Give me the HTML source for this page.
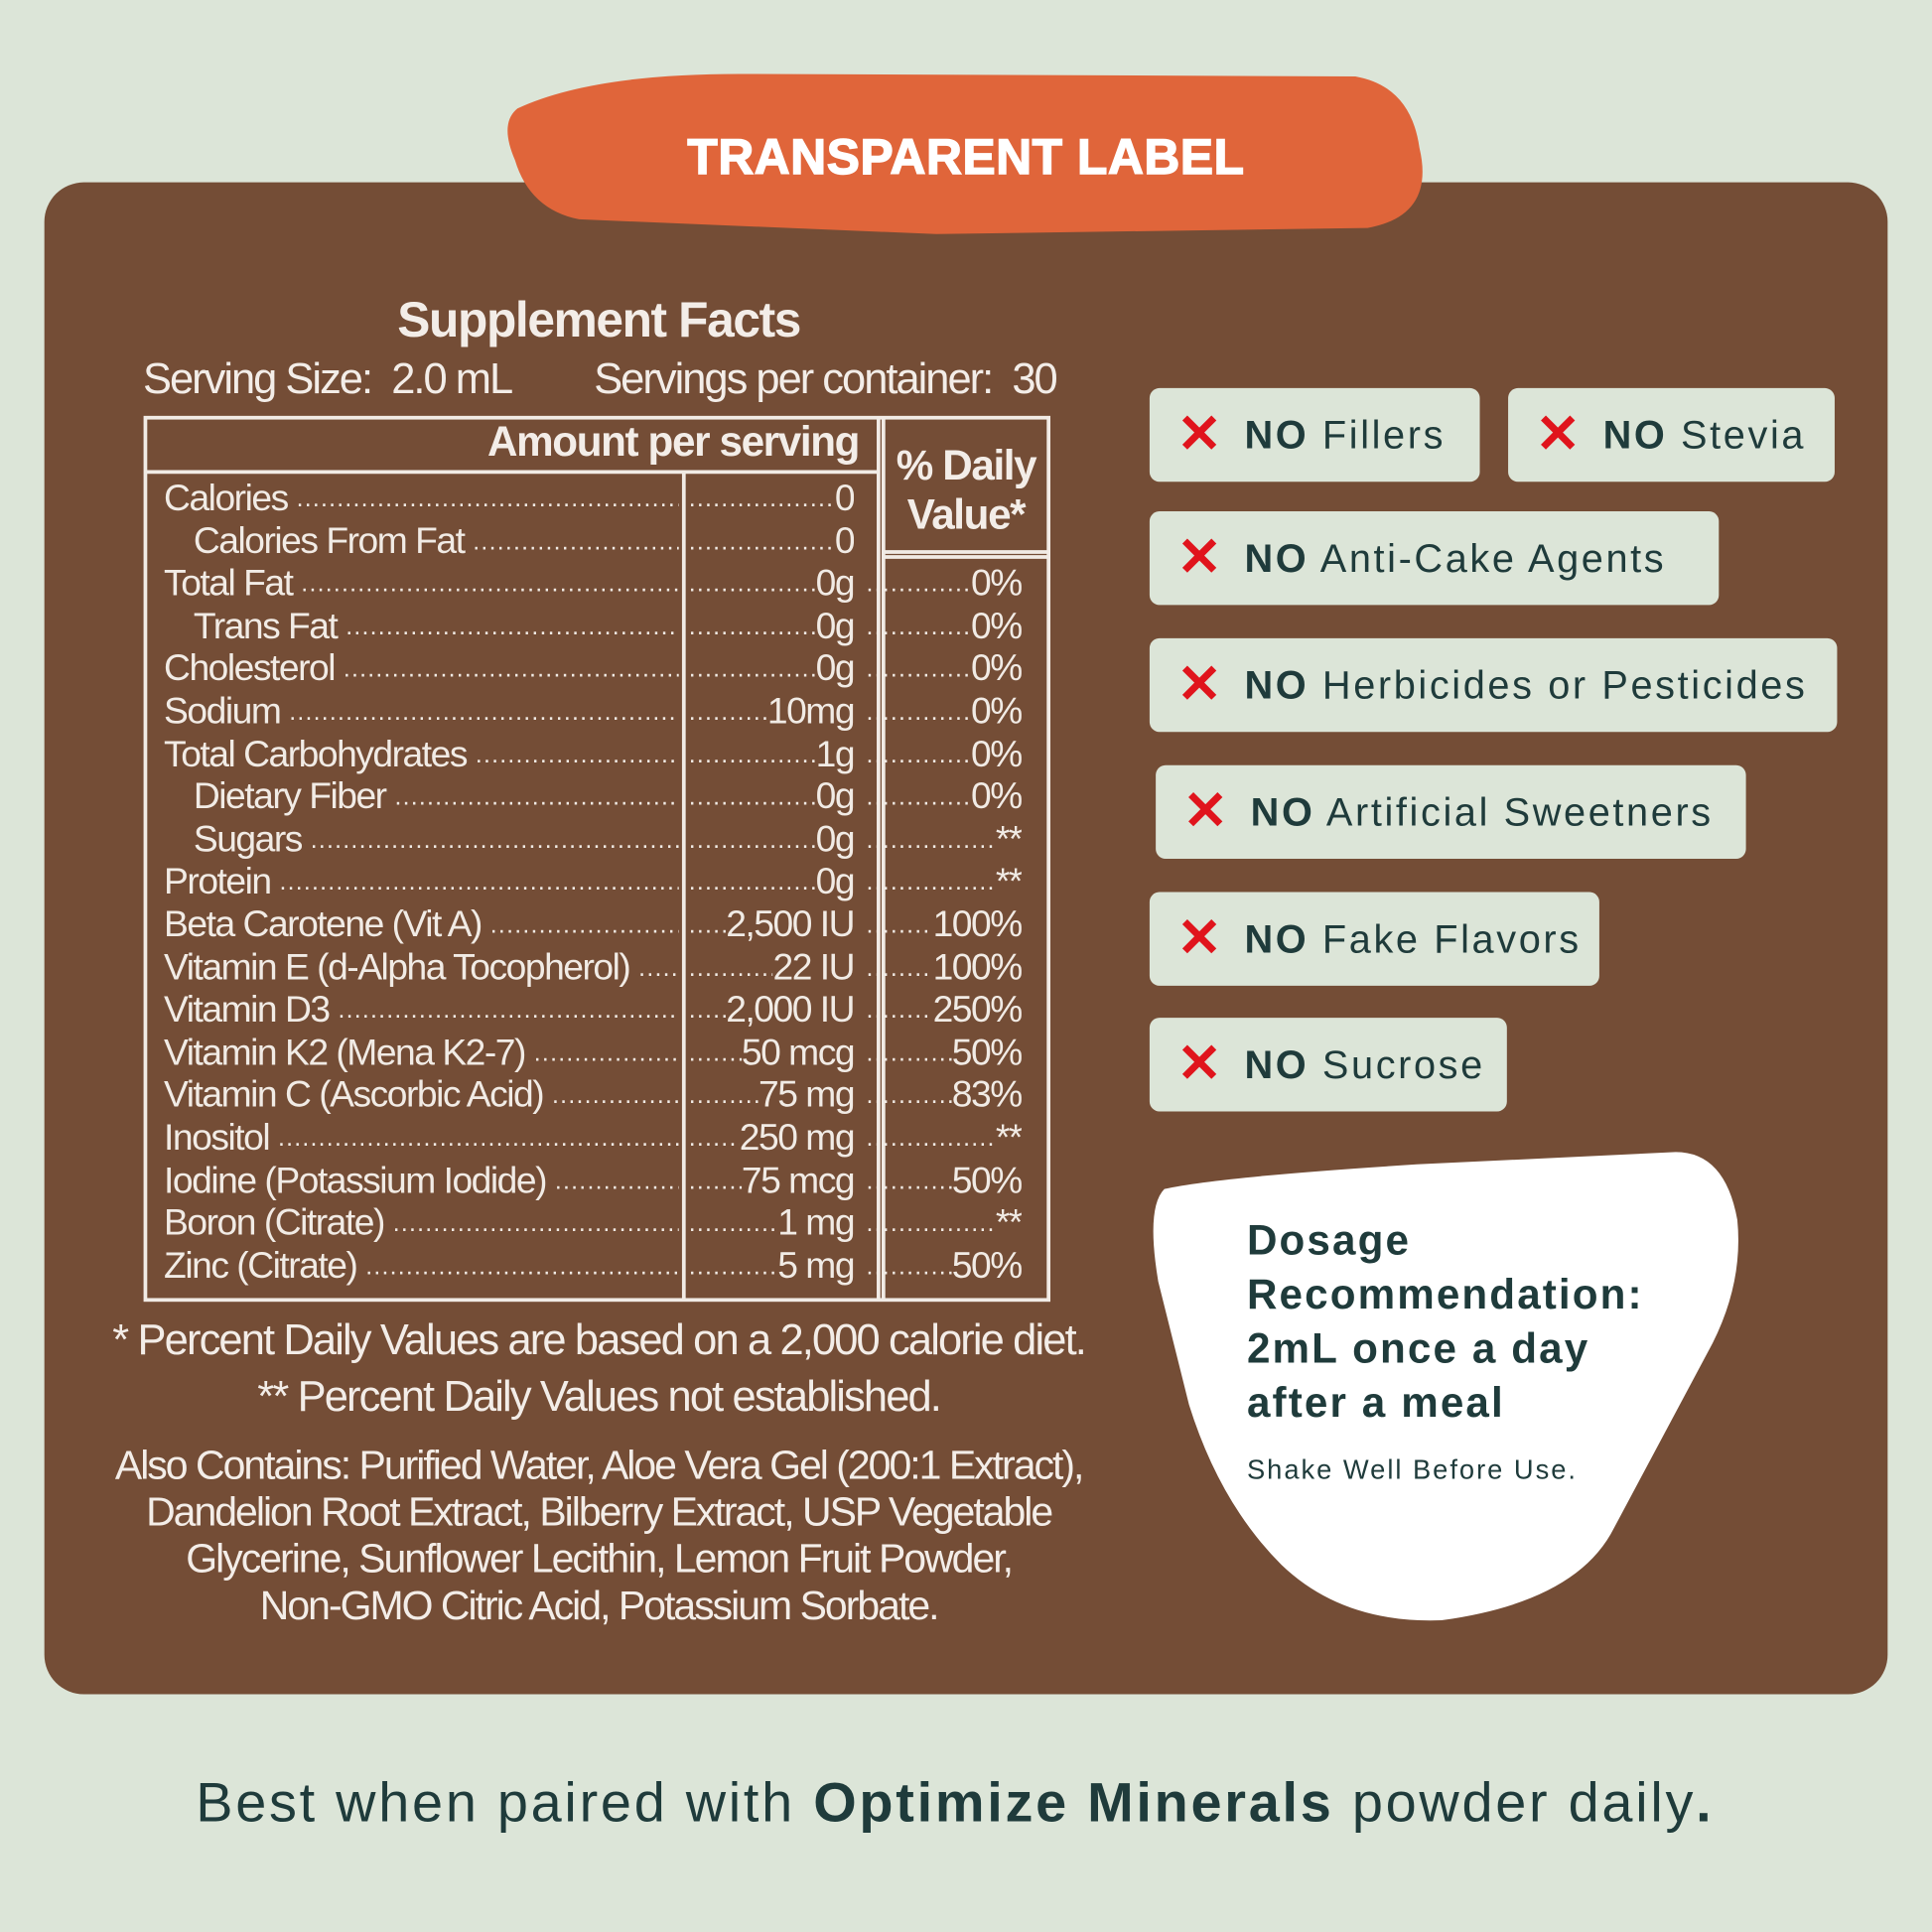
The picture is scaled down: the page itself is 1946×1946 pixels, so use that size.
<!DOCTYPE html>
<html><head><meta charset="utf-8">
<style>
html,body{margin:0;padding:0;}
body{width:1946px;height:1946px;overflow:hidden;background:#dce5d8;}
#w{position:absolute;left:0;top:0;width:1568px;height:1568px;transform:scale(1.24107);transform-origin:0 0;font-family:"Liberation Sans",sans-serif;}
.abs{position:absolute;}
.panel{left:36px;top:148px;width:1496px;height:1227px;background:#744d36;border-radius:32px;}
.sf{color:#f3ede8;letter-spacing:-1.1px;}
.row{position:absolute;height:34px;font-size:30px;line-height:34px;color:#f1ebe5;letter-spacing:-1.2px;}
.c{position:absolute;top:0;display:flex;white-space:nowrap;overflow:hidden;height:34px;}
.d{flex:1;overflow:hidden;white-space:nowrap;font-size:20px;letter-spacing:1px;}
.badge{position:absolute;background:#dce5d8;border-radius:8px;font-size:32px;color:#1f3b3b;letter-spacing:2.1px;line-height:76px;}
.badge b{font-weight:bold;}
.x{color:#e0141c;font-weight:bold;font-size:44px;position:absolute;top:0;}
.dos{color:#1f3b3b;font-weight:bold;font-size:34px;line-height:44px;letter-spacing:1.7px;}
</style></head><body><div id="w">
<div class="abs panel"></div>
<svg class="abs" style="left:0;top:0" width="1568" height="1568">
<path d="M420,88 Q480,60 600,60 L1100,62 Q1145,70 1152,120 Q1165,175 1110,185 L760,190 L470,178 Q430,170 418,130 Q405,100 420,88Z" fill="#e0653a"/>
<path d="M945,965 Q990,955 1150,945 L1360,935 Q1400,935 1410,990 Q1415,1040 1390,1090 L1310,1240 Q1280,1300 1170,1315 Q1090,1318 1040,1270 Q990,1220 965,1140 L940,1040 Q930,980 945,965Z" fill="#fff"/>
<g stroke="#f1ebe5" stroke-width="3" fill="none">
<rect x="118" y="339" width="733" height="716"/>
<line x1="118" y1="383" x2="713" y2="383"/>
<line x1="555" y1="383" x2="555" y2="1055"/>
<line x1="713" y1="339" x2="713" y2="1055"/>
<line x1="717" y1="339" x2="717" y2="1055"/>
<line x1="717" y1="448" x2="851" y2="448"/>
<line x1="717" y1="452" x2="851" y2="452"/>
</g>
</svg>
<div class="abs" style="left:408px;top:106px;width:752px;text-align:center;color:#fff;font-weight:900;font-size:40px;letter-spacing:0.5px;-webkit-text-stroke:1.2px #fff;">TRANSPARENT LABEL</div>

<div class="abs sf" style="left:250px;top:238px;width:472px;text-align:center;font-weight:bold;font-size:40px;">Supplement Facts</div>
<div class="abs sf" style="left:116px;top:288px;font-size:35px;letter-spacing:-1.6px;">Serving Size:&nbsp; 2.0 mL</div>
<div class="abs sf" style="left:482px;top:288px;font-size:35px;letter-spacing:-1.6px;">Servings per container:&nbsp; 30</div>
<div class="abs sf" style="left:300px;top:340px;width:397px;text-align:right;font-weight:bold;font-size:34px;">Amount per serving</div>
<div class="abs sf" style="left:717px;top:358px;width:134px;text-align:center;font-weight:bold;font-size:34px;line-height:40px;">% Daily<br>Value*</div>

<div id="rows"></div>

<div class="abs sf" style="left:36px;top:1068px;width:900px;text-align:center;font-size:35px;letter-spacing:-1.5px;">* Percent Daily Values are based on a 2,000 calorie diet.</div>
<div class="abs sf" style="left:36px;top:1114px;width:900px;text-align:center;font-size:35px;letter-spacing:-1.5px;">** Percent Daily Values not established.</div>
<div class="abs sf" style="left:36px;top:1170px;width:900px;text-align:center;font-size:33px;line-height:38px;letter-spacing:-1.6px;">Also Contains: Purified Water, Aloe Vera Gel (200:1 Extract),<br>Dandelion Root Extract, Bilberry Extract, USP Vegetable<br>Glycerine, Sunflower Lecithin, Lemon Fruit Powder,<br>Non-GMO Citric Acid, Potassium Sorbate.</div>

<div class="badge" style="left:933px;top:315px;width:268px;height:76px;"><span class="x" style="left:22px;">✕</span><span style="position:absolute;left:77px;"><b>NO</b> Fillers</span></div>
<div class="badge" style="left:1224px;top:315px;width:265px;height:76px;"><span class="x" style="left:22px;">✕</span><span style="position:absolute;left:77px;"><b>NO</b> Stevia</span></div>
<div class="badge" style="left:933px;top:415px;width:462px;height:76px;"><span class="x" style="left:22px;">✕</span><span style="position:absolute;left:77px;"><b>NO</b> Anti-Cake Agents</span></div>
<div class="badge" style="left:933px;top:518px;width:558px;height:76px;"><span class="x" style="left:22px;">✕</span><span style="position:absolute;left:77px;"><b>NO</b> Herbicides or Pesticides</span></div>
<div class="badge" style="left:938px;top:621px;width:479px;height:76px;"><span class="x" style="left:22px;">✕</span><span style="position:absolute;left:77px;"><b>NO</b> Artificial Sweetners</span></div>
<div class="badge" style="left:933px;top:724px;width:365px;height:76px;"><span class="x" style="left:22px;">✕</span><span style="position:absolute;left:77px;"><b>NO</b> Fake Flavors</span></div>
<div class="badge" style="left:933px;top:826px;width:290px;height:76px;"><span class="x" style="left:22px;">✕</span><span style="position:absolute;left:77px;"><b>NO</b> Sucrose</span></div>

<div class="abs dos" style="left:1012px;top:985px;">Dosage<br>Recommendation:<br>2mL once a day<br>after a meal</div>
<div class="abs" style="left:1012px;top:1180px;font-size:22px;color:#1f3b3b;letter-spacing:1.6px;">Shake Well Before Use.</div>

<div class="abs" style="left:0;top:1437px;width:1550px;text-align:center;font-size:45px;color:#1f3b3b;letter-spacing:2.2px;">Best when paired with <b>Optimize Minerals</b> powder daily<b>.</b></div>
</div>
<script>
var R=[["Calories","0","",0],["Calories From Fat","0","",1],["Total Fat","0g","0%",0],["Trans Fat","0g","0%",1],["Cholesterol","0g","0%",0],["Sodium","10mg","0%",0],["Total Carbohydrates","1g","0%",0],["Dietary Fiber","0g","0%",1],["Sugars","0g","**",1],["Protein","0g","**",0],["Beta Carotene (Vit A)","2,500 IU","100%",0],["Vitamin E (d-Alpha Tocopherol)","22 IU","100%",0],["Vitamin D3","2,000 IU","250%",0],["Vitamin K2 (Mena K2-7)","50 mcg","50%",0],["Vitamin C (Ascorbic Acid)","75 mg","83%",0],["Inositol","250 mg","**",0],["Iodine (Potassium Iodide)","75 mcg","50%",0],["Boron (Citrate)","1 mg","**",0],["Zinc (Citrate)","5 mg","50%",0]];
var dots=new Array(200).join(".");var h="";
R.forEach(function(r,i){var y=388+i*34.6;var l=r[3]?157:133;
h+='<div class="row" style="top:'+y+'px;left:0;width:900px;">';
h+='<div class="c" style="left:'+l+'px;width:'+(551-l)+'px;"><span>'+r[0]+'&nbsp;</span><span class="d">'+dots+'</span></div>';
h+='<div class="c" style="left:559px;width:134px;"><span class="d">'+dots+'</span><span>'+r[1]+'</span></div>';
if(r[2])h+='<div class="c" style="left:703px;width:126px;"><span class="d">'+dots+'</span><span>'+r[2]+'</span></div>';
h+='</div>';});
document.getElementById("rows").innerHTML=h;
</script>
</body></html>
